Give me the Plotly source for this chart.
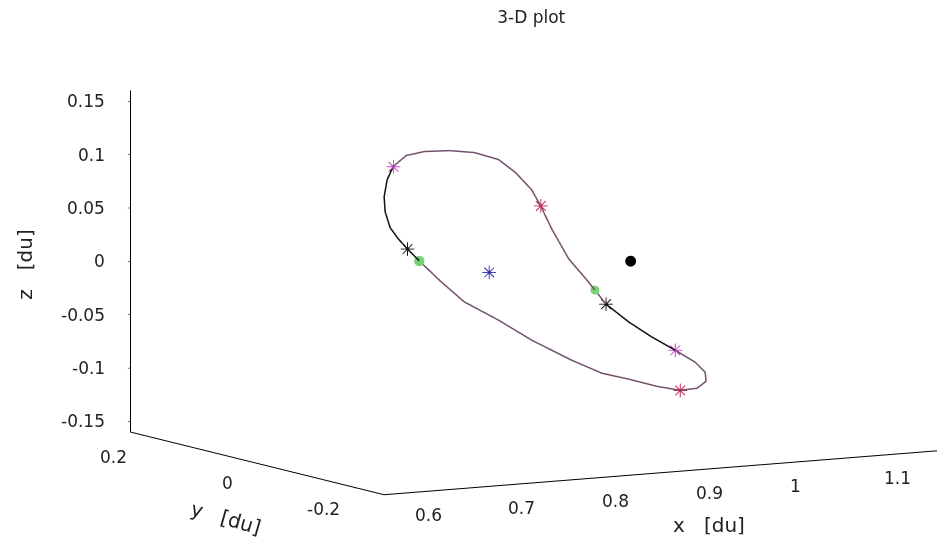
import plotly.graph_objects as go

# Periodic orbit samples in the rotating frame [du]
orbit_x = [0.7178, 0.7232, 0.7339, 0.7521, 0.7732, 0.7932, 0.8086, 0.8257, 0.8353, 0.8499,
           0.8738, 0.8987, 0.9101, 0.9275, 0.9606, 0.9937, 1.0251, 1.0522, 1.0674, 1.0730,
           1.0690, 1.0565, 1.0387, 1.0173, 0.9969, 0.9733, 0.9362, 0.9037, 0.8674, 0.8399,
           0.8107, 0.7923, 0.7770, 0.7599, 0.7432, 0.7308, 0.7227]
orbit_y = [-0.030, -0.045, -0.060, -0.075, -0.085, -0.095, -0.100, -0.100, -0.100, -0.095,
           -0.085, -0.075, -0.070, -0.060, -0.045, -0.030, -0.018, -0.008, 0.000, 0.008,
           0.018, 0.028, 0.040, 0.055, 0.070, 0.085, 0.095, 0.100, 0.100, 0.095,
           0.085, 0.075, 0.065, 0.050, 0.030, 0.010, -0.010]
orbit_z = [0.1110, 0.1228, 0.1276, 0.1291, 0.1270, 0.1203, 0.1076, 0.0904, 0.0747, 0.0515,
           0.0204, -0.0023, -0.0131, -0.0287, -0.0498, -0.0680, -0.0839, -0.0983, -0.1098, -0.1196,
           -0.1271, -0.1294, -0.1259, -0.1196, -0.1144, -0.1024, -0.0822, -0.0618, -0.0423, -0.0210,
           0.0020, 0.0158, 0.0275, 0.0409, 0.0595, 0.0769, 0.0959]

# arcs of the orbit flown on the black trajectory (start index, end index, inclusive)
black_arcs = [(30, 37), (13, 16)]

# event points along the orbit (indices into the orbit samples)
magenta_idx = [0, 16]
red_idx = [8, 21]
green_small_idx = [12]
green_big_idx = [30]
black_idx = [13, 31]

# primaries / libration point
moon = (0.98785, 0.0, 0.0)
lib_point = (0.8369, 0.0, 0.0)

# axes
x_range = [0.5834, 1.2]
y_range = [-0.25, 0.227]
z_range = [-0.16, 0.16]
x_ticks = [0.6, 0.7, 0.8, 0.9, 1.0, 1.1]
x_ticktext = ["0.6", "0.7", "0.8", "0.9", "1", "1.1"]
y_ticks = [-0.2, 0.0, 0.2]
y_ticktext = ["-0.2", "0", "0.2"]
z_ticks = [-0.15, -0.1, -0.05, 0.0, 0.05, 0.1, 0.15]
z_ticktext = ["-0.15", "-0.1", "-0.05", "0", "0.05", "0.1", "0.15"]

n = len(orbit_x)


def pick(idx):
    return ([orbit_x[i % n] for i in idx], [orbit_y[i % n] for i in idx], [orbit_z[i % n] for i in idx])


fig = go.Figure()

# full orbit
loop = list(range(n)) + [0]
lx, ly, lz = pick(loop)
fig.add_trace(go.Scatter3d(x=lx, y=ly, z=lz, mode="lines",
                           line=dict(color="#74506e", width=3), showlegend=False, hoverinfo="skip"))

# black arcs
for a, b in black_arcs:
    bx, by, bz = pick(range(a, b + 1))
    fig.add_trace(go.Scatter3d(x=bx, y=by, z=bz, mode="lines",
                               line=dict(color="#111111", width=3), showlegend=False, hoverinfo="skip"))


def dots(idx, color, size):
    px, py, pz = pick(idx)
    fig.add_trace(go.Scatter3d(x=px, y=py, z=pz, mode="markers",
                               marker=dict(size=size, color=color, symbol="circle"),
                               showlegend=False, hoverinfo="skip"))


def stars(xs, ys, zs, color):
    fig.add_trace(go.Scatter3d(x=xs, y=ys, z=zs, mode="text", text=["\u2733"] * len(xs),
                               textposition="middle center",
                               textfont=dict(family="DejaVu Sans", size=19, color=color),
                               showlegend=False, hoverinfo="skip"))


dots(green_small_idx, "#72d472", 5.2)
dots(green_big_idx, "#72d472", 6.0)
stars(*pick(magenta_idx), "#c040c8")
stars(*pick(red_idx), "#c82850")
stars(*pick(black_idx), "#111111")
stars([lib_point[0]], [lib_point[1]], [lib_point[2]], "#2a2aa8")
fig.add_trace(go.Scatter3d(x=[moon[0]], y=[moon[1]], z=[moon[2]], mode="markers",
                           marker=dict(size=6.3, color="#000000", symbol="circle"),
                           showlegend=False, hoverinfo="skip"))

axis_common = dict(showgrid=False, showbackground=False, zeroline=False, showspikes=False,
                   showline=True, linecolor="#000000", linewidth=2,
                   ticks="outside", tickcolor="#000000", ticklen=3,
                   showticklabels=False, title=dict(text=""))

# upright tick labels and axis titles anchored at data positions
lab_font = dict(family="DejaVu Sans", size=17, color="#222222")
ttl_font = dict(family="DejaVu Sans", size=20, color="#222222")
ann = []
for v, t in zip(x_ticks, x_ticktext):
    ann.append(dict(x=v, y=y_range[0], z=z_range[0], text=t, showarrow=False,
                    xanchor="left", yanchor="middle", xshift=13, yshift=-22, font=lab_font))
for v, t in zip(y_ticks, y_ticktext):
    ann.append(dict(x=x_range[0], y=v, z=z_range[0], text=t, showarrow=False,
                    xanchor="right", yanchor="middle", xshift=-16, yshift=-21, font=lab_font))
for v, t in zip(z_ticks, z_ticktext):
    ann.append(dict(x=x_range[0], y=y_range[1], z=v, text=t, showarrow=False,
                    xanchor="right", yanchor="middle", xshift=-24, yshift=0, font=lab_font))
ann.append(dict(x=0.9, y=y_range[0], z=z_range[0], text="x\u00a0\u00a0\u00a0[du]", showarrow=False,
                xanchor="center", yanchor="middle", xshift=28, yshift=-54, font=ttl_font))
ann.append(dict(x=x_range[0], y=0.0, z=z_range[0], text="y\u00a0\u00a0\u00a0[du]", showarrow=False,
                textangle=16, xanchor="center", yanchor="middle", xshift=-25, yshift=-56, font=ttl_font))
ann.append(dict(x=x_range[0], y=y_range[1], z=0.0, text="z\u00a0\u00a0\u00a0[du]", showarrow=False,
                textangle=-90, xanchor="center", yanchor="middle", xshift=-105, yshift=-3, font=ttl_font))

xr = x_range[1] - x_range[0]
yr = y_range[1] - y_range[0]
zr = z_range[1] - z_range[0]
k = 4.0

view_dir = (-0.488, -0.861, 0.14)
dist = 6.0
cam_center = (-0.2515, 0.1429, 0.0005)

fig.update_layout(
    width=937, height=539,
    paper_bgcolor="white",
    margin=dict(l=0, r=0, t=0, b=0),
    title=dict(text="3-D plot", x=0.567, xanchor="center", y=0.968, yanchor="middle",
               font=dict(family="DejaVu Sans", size=17, color="#222222")),
    scene=dict(
        domain=dict(x=[0, 1], y=[0, 1]),
        bgcolor="white",
        xaxis=dict(range=x_range, tickvals=x_ticks, **axis_common),
        yaxis=dict(range=y_range, tickvals=y_ticks, **axis_common),
        zaxis=dict(range=z_range, tickvals=z_ticks, **axis_common),
        aspectmode="manual",
        aspectratio=dict(x=xr * k, y=yr * k, z=zr * k),
        annotations=ann,
        camera=dict(
            projection=dict(type="orthographic"),
            up=dict(x=0, y=0, z=1),
            center=dict(x=cam_center[0], y=cam_center[1], z=cam_center[2]),
            eye=dict(x=cam_center[0] + view_dir[0] * dist,
                     y=cam_center[1] + view_dir[1] * dist,
                     z=cam_center[2] + view_dir[2] * dist),
        ),
    ),
)

fig.write_html("out.html")
